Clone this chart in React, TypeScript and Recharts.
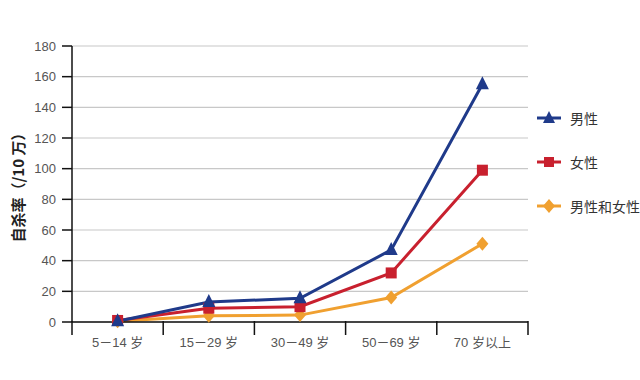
import React from "react";
import { LineChart, Line, XAxis, YAxis, CartesianGrid } from "recharts";

const categories = ["5－14 岁", "15－29 岁", "30－49 岁", "50－69 岁", "70 岁以上"];
const male = [0.5, 13, 15.5, 47, 155];
const female = [1, 9, 10, 32, 99];
const both = [0.5, 4, 4.5, 16, 51];
const yTicks = [0, 20, 40, 60, 80, 100, 120, 140, 160, 180];

const data = categories.map((c, i) => ({ cat: c, male: male[i], female: female[i], both: both[i] }));

const BLUE = "#1f3a8a";
const RED = "#c8202e";
const ORANGE = "#f0a030";
const FONT = "'Liberation Sans', 'Noto Sans CJK SC', sans-serif";

const Tri = (props: any) => {
  const { cx, cy } = props;
  if (cx == null || cy == null) return null;
  return <path d={`M${cx},${cy - 8} L${cx + 6.5},${cy + 5} L${cx - 6.5},${cy + 5} Z`} fill={BLUE} />;
};
const Sq = (props: any) => {
  const { cx, cy } = props;
  if (cx == null || cy == null) return null;
  return <rect x={cx - 5.5} y={cy - 5.5} width={11} height={11} fill={RED} />;
};
const Dia = (props: any) => {
  const { cx, cy } = props;
  if (cx == null || cy == null) return null;
  return <path d={`M${cx},${cy - 7} L${cx + 6},${cy} L${cx},${cy + 7} L${cx - 6},${cy} Z`} fill={ORANGE} />;
};

const XTick = (props: any) => {
  const { x, y, payload, index, visibleTicksCount } = props;
  const half = payload && payload.offset ? payload.offset : 45.6;
  const top = y - 8;
  return (
    <g>
      <line x1={x - half} y1={top - 1} x2={x - half} y2={top + 13} stroke="#111" strokeWidth={1.5} />
      {index === visibleTicksCount - 1 && (
        <line x1={x + half} y1={top - 1} x2={x + half} y2={top + 13} stroke="#111" strokeWidth={1.5} />
      )}
      <text x={x} y={y + 17} textAnchor="middle" fill="#555" fontSize={13} fontFamily={FONT}>
        {payload.value}
      </text>
    </g>
  );
};

const legendItems = [
  { label: "男性", color: BLUE, shape: "tri" },
  { label: "女性", color: RED, shape: "sq" },
  { label: "男性和女性", color: ORANGE, shape: "dia" },
];

const LegendBox = () => (
  <div style={{ position: "absolute", left: 536, top: 96, fontFamily: "'Noto Sans CJK SC', sans-serif" }}>
    {legendItems.map((it, i) => (
      <div key={i} style={{ display: "flex", alignItems: "center", height: 44 }}>
        <svg width={30} height={16}>
          <line x1={1} y1={8} x2={25} y2={8} stroke={it.color} strokeWidth={3} />
          {it.shape === "tri" && <path d="M13,1 L19,13 L7,13 Z" fill={it.color} />}
          {it.shape === "sq" && <rect x={8} y={3} width={10} height={10} fill={it.color} />}
          {it.shape === "dia" && <path d="M13,1 L19,8 L13,15 L7,8 Z" fill={it.color} />}
        </svg>
        <span style={{ fontSize: 14, color: "#333", marginLeft: 4, whiteSpace: "nowrap" }}>{it.label}</span>
      </div>
    ))}
  </div>
);

export default function App() {
  return (
    <div style={{ position: "absolute", left: 0, top: 0, width: 640, height: 380, background: "#fff" }}>
      <LineChart width={640} height={380} data={data} margin={{ top: 46, right: 112, bottom: 0, left: 22 }}>
        <CartesianGrid horizontal vertical={false} stroke="#c8c8c8" strokeWidth={1.2} />
        <XAxis
          dataKey="cat"
          scale="band"
          height={58}
          tickLine={false}
          axisLine={{ stroke: "#111", strokeWidth: 1.5 }}
          tick={<XTick />}
          interval={0}
        />
        <YAxis
          domain={[0, 180]}
          ticks={yTicks}
          width={50}
          tickSize={10}
          tickMargin={6}
          axisLine={{ stroke: "#111", strokeWidth: 1.5 }}
          tickLine={{ stroke: "#111", strokeWidth: 1.5 }}
          tick={{ fill: "#555", fontSize: 13, fontFamily: FONT }}
          label={{
            value: "自杀率（/10 万）",
            angle: -90,
            position: "insideLeft",
            offset: 0,
            dx: -3,
            dy: 0,
            style: { textAnchor: "middle", fontWeight: "bold", fontSize: 15, fill: "#222", fontFamily: "'Noto Sans CJK SC', sans-serif" },
          }}
        />
        <Line type="linear" dataKey="both" stroke={ORANGE} strokeWidth={3} dot={<Dia />} isAnimationActive={false} />
        <Line type="linear" dataKey="female" stroke={RED} strokeWidth={3} dot={<Sq />} isAnimationActive={false} />
        <Line type="linear" dataKey="male" stroke={BLUE} strokeWidth={3} dot={<Tri />} isAnimationActive={false} />
      </LineChart>
      <LegendBox />
    </div>
  );
}
